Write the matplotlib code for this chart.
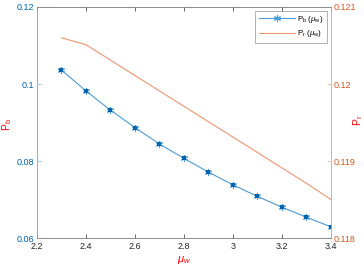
import numpy as np
import matplotlib
matplotlib.use("Agg")
import matplotlib.pyplot as plt

plt.rcParams['font.family'] = ['Liberation Sans', 'DejaVu Sans']
plt.rcParams['mathtext.fontset'] = 'custom'
plt.rcParams['mathtext.it'] = 'Liberation Sans:italic'
plt.rcParams['mathtext.rm'] = 'Liberation Sans'

# data
mu_w = [2.3, 2.4, 2.5, 2.6, 2.7, 2.8, 2.9, 3.0, 3.1, 3.2, 3.3, 3.4]
p_b = [0.1036, 0.0982, 0.0932, 0.0887, 0.0844, 0.0807,
       0.0771, 0.0738, 0.0708, 0.0680, 0.0654, 0.0629]
p_r = [0.12060, 0.12051, 0.12031, 0.12011, 0.11991, 0.11971,
       0.11951, 0.11931, 0.11911, 0.11891, 0.11871, 0.11850]

xticks = [2.2, 2.4, 2.6, 2.8, 3.0, 3.2, 3.4]
xlabels = ["2.2", "2.4", "2.6", "2.8", "3", "3.2", "3.4"]
lticks = [0.06, 0.08, 0.1, 0.12]
llabels = ["0.06", "0.08", "0.1", "0.12"]
rticks = [0.118, 0.119, 0.12, 0.121]
rlabels = ["0.118", "0.119", "0.12", "0.121"]

blue = "#0063B0"
blue_line = "#4D9BD6"
orange = "#D95319"
orange_line = "#EE9470"
grey = "#262626"

fig = plt.figure(figsize=(3.64, 2.68), dpi=100)
ax = fig.add_axes([0.1016, 0.1119, 0.8077, 0.862])
ax2 = ax.twinx()

l1, = ax.plot(mu_w, p_b, color=blue_line, lw=0.8, marker=(6, 2, 0), ms=5,
              mec=blue_line, mew=0.8,
              label=r"P$_\mathrm{b}$ ($\mu_\mathrm{w}$)")
ax.plot(mu_w, p_b, ls="none", marker="s", ms=2.2, color=blue, mew=0)
l2, = ax2.plot(mu_w, p_r, color=orange_line, lw=0.8,
               label=r"P$_\mathrm{r}$ ($\mu_\mathrm{w}$)")

ax.set_xlim(2.2, 3.4)
ax.set_ylim(0.06, 0.12)
ax2.set_ylim(0.118, 0.121)

ax.set_xticks(xticks)
ax.set_xticklabels(xlabels)
ax.set_yticks(lticks)
ax.set_yticklabels(llabels)
ax2.set_yticks(rticks)
ax2.set_yticklabels(rlabels)

ax.tick_params(axis="x", direction="in", length=3, width=0.5, colors=grey,
               labelsize=6.5, pad=3, top=True)
ax.tick_params(axis="y", direction="in", length=3, width=0.5, colors="#7FB2DD",
               labelcolor=blue, labelsize=6.5, pad=2)
ax2.tick_params(axis="y", direction="in", length=3, width=0.5, colors="#EBA98B",
                labelcolor=orange, labelsize=6.5, pad=2)

for a in (ax, ax2):
    a.spines["top"].set_color("#8c8c8c")
    a.spines["bottom"].set_color("#8c8c8c")
    a.spines["left"].set_color("#7FB2DD")
    a.spines["right"].set_color("#EBA98B")
    for s in a.spines.values():
        s.set_linewidth(0.6)

ax.set_xlabel(r"$\mu_w$", color="red", fontsize=8, labelpad=2)
ax.set_ylabel(r"P$_\mathrm{b}$", color="red", fontsize=7.5)
ax2.set_ylabel(r"P$_\mathrm{r}$", color="red", fontsize=7.5, rotation=90)
ax.yaxis.set_label_coords(-0.078, 0.49)
ax2.yaxis.set_label_coords(1.07, 0.51)

leg = ax.legend(handles=[l1, l2], loc="upper right", fontsize=5.8,
                frameon=True, fancybox=False, edgecolor="#8c8c8c",
                borderpad=0.4, handlelength=4.5, handletextpad=0.3,
                labelspacing=0.4, borderaxespad=0.5)
leg.get_frame().set_linewidth(0.6)
ax.set_zorder(ax2.get_zorder() + 1)
ax.patch.set_visible(False)

fig.savefig("out.png", dpi=100)
